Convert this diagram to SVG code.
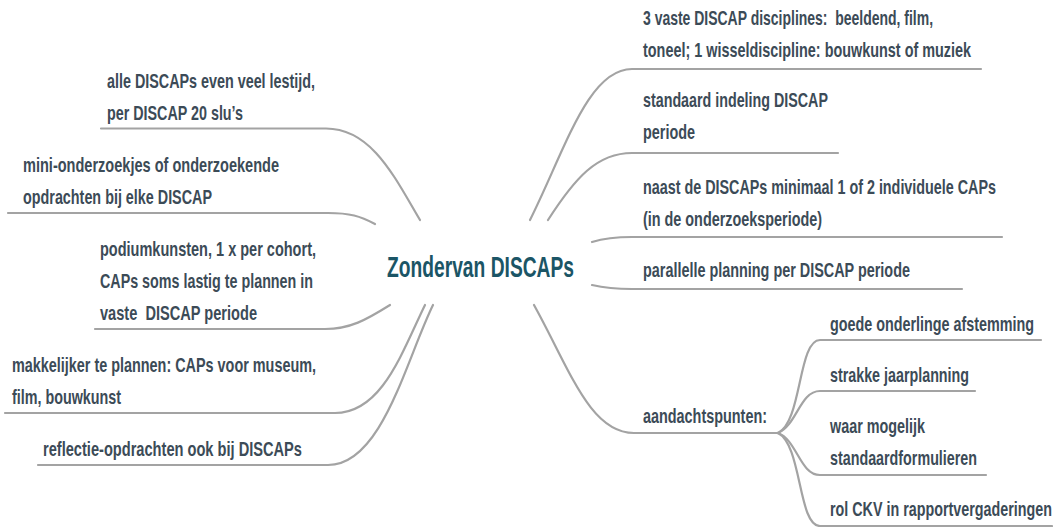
<svg xmlns="http://www.w3.org/2000/svg" width="1062" height="527" viewBox="0 0 1062 527">
<style>
  .t { font-family: "Liberation Sans Narrow", "Liberation Sans", Arial, sans-serif; font-weight: bold; font-size: 20px; fill: #3c4b57; }
  .c { font-family: "Liberation Sans Narrow", "Liberation Sans", Arial, sans-serif; font-weight: bold; font-size: 30px; fill: #1b5566; }
  .ln { fill: none; stroke: #a3a3a3; stroke-width: 2.2; stroke-linecap: round; }
</style>
<rect width="1062" height="527" fill="#ffffff"/>
<g id="connectors">
  <path class="ln" d="M420,220 C395,178 372,128.5 326,128.5 H101"/>
  <path class="ln" d="M375,224 C360,216 350,213 328,213 H8"/>
  <path class="ln" d="M390,305 C366,320 350,329 325,329 H95"/>
  <path class="ln" d="M425,305 C402,352 382,413 335,413 H5"/>
  <path class="ln" d="M433,305 C406,360 382,465 328,465 H38"/>
  <path class="ln" d="M530,220 C565,150 588,69 632,69 H981"/>
  <path class="ln" d="M548,220 C575,178 597,153 632,153 H838"/>
  <path class="ln" d="M592,242 C605,238 615,237 632,237 H1002"/>
  <path class="ln" d="M592,285 C605,288 615,289 632,289 H962"/>
  <path class="ln" d="M534,305 C570,370 590,433 634,433 H778"/>
  <path class="ln" d="M778,433 C802,422 798,340 820,340 H1041"/>
  <path class="ln" d="M778,433 C797,425 800,391 820,391 H975"/>
  <path class="ln" d="M778,433 C797,440 800,475 820,475 H986"/>
  <path class="ln" d="M778,433 C802,445 798,526 820,526 H1052"/>
</g>
<g id="center" transform="translate(387 0) scale(0.64 1)">
  <text class="c" x="0" y="277" textLength="292.2" lengthAdjust="spacingAndGlyphs">Zondervan DISCAPs</text>
</g>
<g id="n-lestijd" transform="translate(107 0) scale(0.72 1)">
  <text class="t" x="0" y="88" textLength="288.9" lengthAdjust="spacingAndGlyphs">alle DISCAPs even veel lestijd,</text>
  <text class="t" x="0" y="120" textLength="188.9" lengthAdjust="spacingAndGlyphs">per DISCAP 20 slu’s</text>
</g>
<g id="n-onderzoek" transform="translate(23 0) scale(0.72 1)">
  <text class="t" x="0" y="172" textLength="355.6" lengthAdjust="spacingAndGlyphs">mini-onderzoekjes of onderzoekende</text>
  <text class="t" x="0" y="204" textLength="262.5" lengthAdjust="spacingAndGlyphs">opdrachten bij elke DISCAP</text>
</g>
<g id="n-podium" transform="translate(100 0) scale(0.72 1)">
  <text class="t" x="0" y="256" textLength="300" lengthAdjust="spacingAndGlyphs">podiumkunsten, 1 x per cohort,</text>
  <text class="t" x="0" y="288" textLength="295.8" lengthAdjust="spacingAndGlyphs">CAPs soms lastig te plannen in</text>
  <text class="t" x="0" y="320" textLength="218.1" lengthAdjust="spacingAndGlyphs" xml:space="preserve">vaste  DISCAP periode</text>
</g>
<g id="n-makkelijker" transform="translate(12 0) scale(0.72 1)">
  <text class="t" x="0" y="372" textLength="422.2" lengthAdjust="spacingAndGlyphs">makkelijker te plannen: CAPs voor museum,</text>
  <text class="t" x="0" y="404" textLength="151.4" lengthAdjust="spacingAndGlyphs">film, bouwkunst</text>
</g>
<g id="n-reflectie" transform="translate(43 0) scale(0.72 1)">
  <text class="t" x="0" y="456" textLength="359.7" lengthAdjust="spacingAndGlyphs">reflectie-opdrachten ook bij DISCAPs</text>
</g>
<g id="n-disciplines" transform="translate(643 0) scale(0.72 1)">
  <text class="t" x="0" y="25" textLength="402.8" lengthAdjust="spacingAndGlyphs" xml:space="preserve">3 vaste DISCAP disciplines:  beeldend, film,</text>
  <text class="t" x="0" y="57" textLength="455.6" lengthAdjust="spacingAndGlyphs">toneel; 1 wisseldiscipline: bouwkunst of muziek</text>
</g>
<g id="n-indeling" transform="translate(643 0) scale(0.72 1)">
  <text class="t" x="0" y="107" textLength="256.9" lengthAdjust="spacingAndGlyphs">standaard indeling DISCAP</text>
  <text class="t" x="0" y="139" textLength="72.2" lengthAdjust="spacingAndGlyphs">periode</text>
</g>
<g id="n-naast" transform="translate(643 0) scale(0.72 1)">
  <text class="t" x="0" y="194" textLength="490.3" lengthAdjust="spacingAndGlyphs">naast de DISCAPs minimaal 1 of 2 individuele CAPs</text>
  <text class="t" x="0" y="226" textLength="248.6" lengthAdjust="spacingAndGlyphs">(in de onderzoeksperiode)</text>
</g>
<g id="n-parallel" transform="translate(643 0) scale(0.72 1)">
  <text class="t" x="0" y="277" textLength="370.8" lengthAdjust="spacingAndGlyphs">parallelle planning per DISCAP periode</text>
</g>
<g id="n-aandacht" transform="translate(643 0) scale(0.72 1)">
  <text class="t" x="0" y="423" textLength="172.2" lengthAdjust="spacingAndGlyphs">aandachtspunten:</text>
</g>
<g id="n-afstemming" transform="translate(830 0) scale(0.72 1)">
  <text class="t" x="0" y="331" textLength="283.3" lengthAdjust="spacingAndGlyphs">goede onderlinge afstemming</text>
</g>
<g id="n-jaarplanning" transform="translate(830 0) scale(0.72 1)">
  <text class="t" x="0" y="382" textLength="193.1" lengthAdjust="spacingAndGlyphs">strakke jaarplanning</text>
</g>
<g id="n-formulieren" transform="translate(830 0) scale(0.72 1)">
  <text class="t" x="0" y="433" textLength="131.9" lengthAdjust="spacingAndGlyphs">waar mogelijk</text>
  <text class="t" x="0" y="465" textLength="204.2" lengthAdjust="spacingAndGlyphs">standaardformulieren</text>
</g>
<g id="n-ckv" transform="translate(830 0) scale(0.72 1)">
  <text class="t" x="0" y="516" textLength="308.3" lengthAdjust="spacingAndGlyphs">rol CKV in rapportvergaderingen</text>
</g>
</svg>
